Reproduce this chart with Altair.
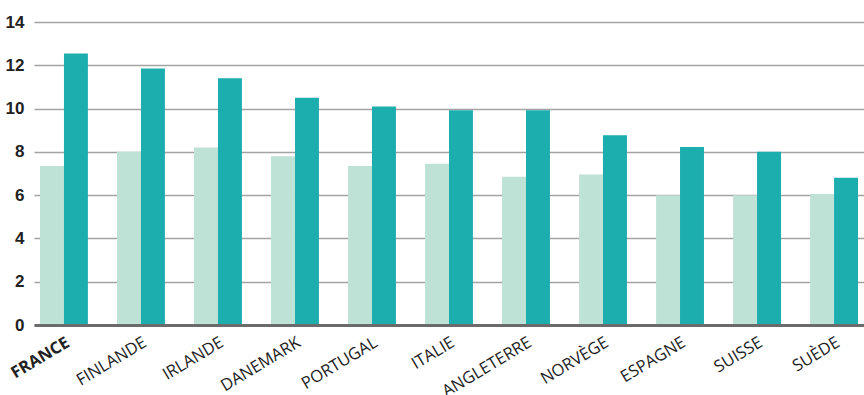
import altair as alt
import pandas as pd

countries = ["FRANCE", "FINLANDE", "IRLANDE", "DANEMARK", "PORTUGAL", "ITALIE",
             "ANGLETERRE", "NORVÈGE", "ESPAGNE", "SUISSE", "SUÈDE"]
series_names = ["Série 1", "Série 2"]
values_light = [7.35, 8.0, 8.2, 7.8, 7.35, 7.45, 6.85, 6.95, 6.0, 6.0, 6.05]
values_dark = [12.55, 11.85, 11.4, 10.5, 10.1, 9.92, 9.92, 8.77, 8.22, 8.0, 6.8]
y_ticks = [0, 2, 4, 6, 8, 10, 12, 14]
colors = ["#bfe2d6", "#1cadae"]

rows = []
for c, a, b in zip(countries, values_light, values_dark):
    rows.append({"pays": c, "serie": series_names[0], "valeur": a})
    rows.append({"pays": c, "serie": series_names[1], "valeur": b})
df = pd.DataFrame(rows)

chart = alt.Chart(df).mark_bar().encode(
    x=alt.X("pays:N", sort=countries,
            scale=alt.Scale(paddingInner=0.378, paddingOuter=0.078),
            axis=alt.Axis(title=None, labelAngle=-31, labelAlign="right",
                          labelBaseline="top", labelPadding=9, ticks=False,
                          labelFont="Open Sans", labelFontSize=16.5,
                          labelColor="#222222",
                          labelFontWeight=alt.condition("datum.value == 'FRANCE'",
                                                        alt.value("bold"),
                                                        alt.value("normal")),
                          domainColor="#6b6b6b", domainWidth=3, zindex=1,
                          labelOverlap=False, labelBound=False)),
    xOffset=alt.XOffset("serie:N", sort=series_names,
                        scale=alt.Scale(paddingInner=0, paddingOuter=0)),
    y=alt.Y("valeur:Q", scale=alt.Scale(domain=[0, 14], nice=False),
            axis=alt.Axis(title=None, values=y_ticks, grid=True, domain=False,
                          ticks=False, labelPadding=10,
                          labelFont="Liberation Sans", labelFontSize=17,
                          labelFontWeight="bold", labelColor="#222222",
                          gridColor="#a3a3a3", gridWidth=1.6, zindex=0)),
    color=alt.Color("serie:N", sort=series_names,
                    scale=alt.Scale(domain=series_names, range=colors),
                    legend=None),
).properties(
    width=830, height=303,
    autosize=alt.AutoSizeParams(type="none"),
    padding={"left": 34, "top": 22, "right": 0, "bottom": 70},
).configure_view(stroke=None)

chart.save("out.html", embed_options={"renderer": "svg", "actions": False})
